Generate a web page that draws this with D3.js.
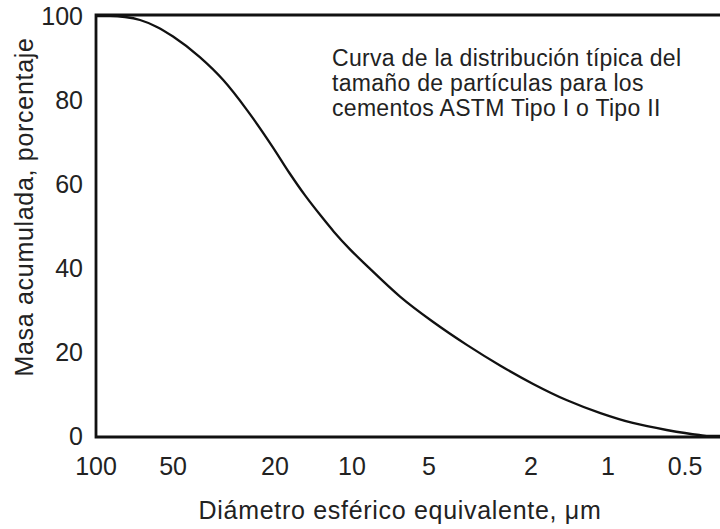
<!DOCTYPE html>
<html>
<head>
<meta charset="utf-8">
<script src="https://cdn.jsdelivr.net/npm/d3@7"></script>
<style>
  body { margin: 0; background: #fff; }
  svg { display: block; font-family: "Liberation Sans", Arial, sans-serif; }
</style>
</head>
<body>
<svg id="chart"></svg>
<script>
const width = 720;
const height = 529;

// data (diameter in µm, cumulative mass %)
const diameters = [100, 88, 77, 67.3, 57.8, 50, 39.3, 31.9, 25.7, 20.4, 17.5, 15.3, 13.3, 11.75, 10.2, 8.7,
  6.49, 4.83, 3.56, 2.64, 1.96, 1.445, 1.07, 0.8, 0.59, 0.44, 0.4, 0.365];
const massPct = [100, 100, 99.76, 99.05, 97.4, 95.1, 90.2, 84.8, 77.6, 68.8, 62.5, 57.4, 52.6, 48.6, 44.5, 40.4,
  33.2, 27.2, 21.7, 16.8, 12.4, 8.5, 5.45, 3.1, 1.43, 0.24, 0, 0];
const xTicks = [100, 50, 20, 10, 5, 2, 1, 0.5];
const yTicks = [0, 20, 40, 60, 80, 100];
const noteLines = [
  "Curva de la distribución típica del",
  "tamaño de partículas para los",
  "cementos ASTM Tipo I o Tipo II"
];

const margin = { top: 16, right: 0, bottom: 93, left: 96 };

const svg = d3.select("#chart").attr("width", width).attr("height", height);

const x = d3.scaleLog()
  .domain([100, 0.365])
  .range([margin.left, width - margin.right]);

const y = d3.scaleLinear()
  .domain([0, 100])
  .range([height - margin.bottom, margin.top]);

const points = diameters.map((d, i) => ({ d: d, p: massPct[i] }));

// frame (left, top, bottom)
const x0 = x.range()[0], x1 = x.range()[1];
const yTop = y(100) - 1, yBot = y(0) + 1;
svg.append("path")
  .attr("d", `M${x1},${yTop} L${x0},${yTop} L${x0},${yBot} L${x1},${yBot}`)
  .attr("fill", "none")
  .attr("stroke", "#111")
  .attr("stroke-width", 2.8);

// curve
const line = d3.line()
  .x((d) => x(d.d))
  .y((d) => y(d.p))
  .curve(d3.curveMonotoneX);

svg.append("path")
  .datum(points)
  .attr("d", line)
  .attr("fill", "none")
  .attr("stroke", "#111")
  .attr("stroke-width", 2.3);

// y axis labels
svg.append("g")
  .selectAll("text")
  .data(yTicks)
  .join("text")
  .attr("x", 83)
  .attr("y", (d) => y(d))
  .attr("dy", "0.36em")
  .attr("text-anchor", "end")
  .attr("font-size", 25)
  .attr("fill", "#222")
  .text((d) => d);

// x axis labels
svg.append("g")
  .selectAll("text")
  .data(xTicks)
  .join("text")
  .attr("x", (d) => x(d))
  .attr("y", 475)
  .attr("text-anchor", "middle")
  .attr("font-size", 25)
  .attr("fill", "#222")
  .text((d) => d);

// axis titles
svg.append("text")
  .attr("x", 400)
  .attr("y", 519)
  .attr("text-anchor", "middle")
  .attr("font-size", 25)
  .attr("letter-spacing", 0.7)
  .attr("fill", "#222")
  .text("Diámetro esférico equivalente, μm");

svg.append("text")
  .attr("transform", `translate(33, 207) rotate(-90)`)
  .attr("text-anchor", "middle")
  .attr("font-size", 25)
  .attr("letter-spacing", 0.7)
  .attr("fill", "#222")
  .text("Masa acumulada, porcentaje");

// note
svg.append("text")
  .attr("font-size", 23)
  .attr("letter-spacing", 0.3)
  .attr("fill", "#222")
  .selectAll("tspan")
  .data(noteLines)
  .join("tspan")
  .attr("x", 332)
  .attr("y", (d, i) => 66 + i * 25)
  .text((d) => d);
</script>
</body>
</html>
